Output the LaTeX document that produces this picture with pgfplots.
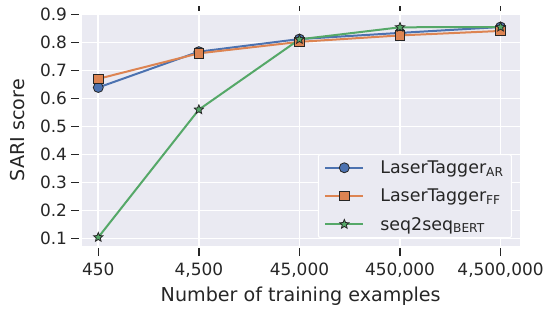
\documentclass[border=0pt]{standalone}
\usepackage{fontspec}
\setmainfont{DejaVu Sans}
\usepackage{pgfplots}
\pgfplotsset{compat=1.18}
\definecolor{bgc}{HTML}{EAEAF2}
\definecolor{sbblue}{HTML}{4C72B0}
\definecolor{sborange}{HTML}{DD8452}
\definecolor{sbgreen}{HTML}{55A868}
\definecolor{txt}{HTML}{262626}
\pgfdeclareplotmark{fstar}{%
  \pgfpathmoveto{\pgfpointpolar{90}{\pgfplotmarksize}}%
  \pgfpathlineto{\pgfpointpolar{126}{0.45\pgfplotmarksize}}%
  \pgfpathlineto{\pgfpointpolar{162}{\pgfplotmarksize}}%
  \pgfpathlineto{\pgfpointpolar{198}{0.45\pgfplotmarksize}}%
  \pgfpathlineto{\pgfpointpolar{234}{\pgfplotmarksize}}%
  \pgfpathlineto{\pgfpointpolar{270}{0.45\pgfplotmarksize}}%
  \pgfpathlineto{\pgfpointpolar{306}{\pgfplotmarksize}}%
  \pgfpathlineto{\pgfpointpolar{342}{0.45\pgfplotmarksize}}%
  \pgfpathlineto{\pgfpointpolar{18}{\pgfplotmarksize}}%
  \pgfpathlineto{\pgfpointpolar{54}{0.45\pgfplotmarksize}}%
  \pgfpathclose
  \pgfusepathqfillstroke}
\begin{document}
\begin{tikzpicture}
\begin{axis}[
  at={(81.7bp,65.3bp)}, anchor=south west,
  scale only axis, width=438bp, height=231bp,
  xmin=-0.165, xmax=4.19, ymin=0.075, ymax=0.9,
  axis background/.style={fill=bgc},
  axis line style={draw=none},
  grid=major, major grid style={white, line width=1.6bp},
  xtick={0,1,2,3,4},
  xticklabels={450,{4,500},{45,000},{450,000},{4,500,000}},
  ytick={0.1,0.2,0.3,0.4,0.5,0.6,0.7,0.8,0.9},
  yticklabels={0.1,0.2,0.3,0.4,0.5,0.6,0.7,0.8,0.9},
  tick align=outside, xtick pos=bottom, ytick pos=left,
  major tick length=13bp,
  every tick/.style={txt, line width=1.5bp, dash pattern=on 0pt off 2.5bp on 8bp off 2.5bp},
  ticklabel style={font=\fontsize{17}{20}\selectfont, text=txt},
  xticklabel style={inner sep=0pt, yshift=-4bp},
  yticklabel style={inner sep=0pt, xshift=-1.5bp},
  xlabel={Number of training examples},
  ylabel={SARI score},
  label style={font=\fontsize{19.2}{23}\selectfont, text=txt},
  xlabel style={at={(axis description cs:0.5,-0.2437)}, anchor=base},
  ylabel style={at={(axis description cs:-0.1295,0.5)}, anchor=base},
  legend style={at={(0.9824,0.0333)}, anchor=south east, fill=bgc, draw=white,
    line width=1bp, rounded corners=2bp, font=\fontsize{17.5}{21}\selectfont, text=txt,
    inner xsep=6bp, inner ysep=4bp, row sep=10bp,
    nodes={inner sep=2bp},
    /tikz/every odd column/.append style={column sep=14bp}},
  legend cell align=left,
  legend image code/.code={\draw[mark repeat=2,mark phase=2] plot coordinates {(0bp,0bp) (19bp,0bp) (38bp,0bp)};},
]
\addplot[sbblue, line width=2bp, mark=*, mark size=5bp,
  mark options={fill=sbblue, draw=black!85, line width=0.8bp}]
  coordinates {(0,0.640) (1,0.768) (2,0.813) (3,0.835) (4,0.856)};
\addlegendentry{LaserTagger\textsubscript{AR}}
\addplot[sborange, line width=2bp, mark=square*, mark size=4.8bp,
  mark options={fill=sborange, draw=black!85, line width=0.8bp}]
  coordinates {(0,0.671) (1,0.762) (2,0.803) (3,0.826) (4,0.842)};
\addlegendentry{LaserTagger\textsubscript{FF}}
\addplot[sbgreen, line width=2bp, mark=fstar, mark size=4.8bp,
  mark options={fill=sbgreen, draw=black!85, line width=0.8bp}]
  coordinates {(0,0.105) (1,0.561) (2,0.812) (3,0.855) (4,0.856)};
\addlegendentry{seq2seq\textsubscript{BERT}}
\end{axis}
\begin{axis}[
  at={(81.7bp,65.3bp)}, anchor=south west,
  scale only axis, width=438bp, height=231bp,
  xmin=-0.165, xmax=4.19, ymin=0.075, ymax=0.9,
  axis line style={draw=none},
  xtick={1,2,3,4}, xticklabels={}, xtick pos=top, tick align=outside,
  ytick=\empty,
  major tick length=11.6bp,
  every tick/.style={txt, line width=1.5bp, dash pattern=on 0pt off 3.3bp on 5bp off 3.3bp},
]
\end{axis}
\pgfresetboundingbox
\path (0bp,0bp) rectangle (548bp,311bp);
\end{tikzpicture}
\end{document}
